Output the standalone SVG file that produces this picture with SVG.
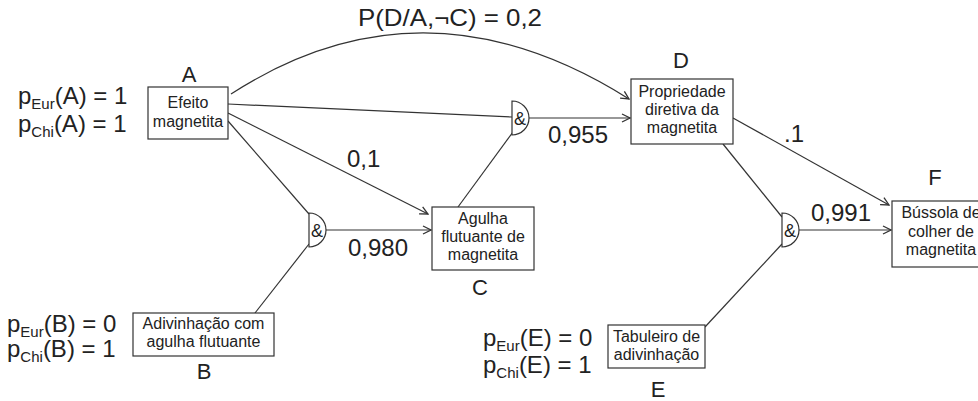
<svg xmlns="http://www.w3.org/2000/svg" width="978" height="401" viewBox="0 0 978 401">
<style>
.box{fill:#fff;stroke:#333;stroke-width:1.2}
.gate{fill:#fff;stroke:#333;stroke-width:1.2}
.t{font-family:"Liberation Sans",Arial,sans-serif;font-size:16px;fill:#222;text-anchor:middle}
.g{font-family:"Liberation Sans",Arial,sans-serif;font-size:18px;fill:#222;text-anchor:middle}
.L{font-family:"Liberation Sans",Arial,sans-serif;font-size:22px;fill:#222;text-anchor:middle}
.n{font-family:"Liberation Sans",Arial,sans-serif;font-size:24px;fill:#222}
.e{fill:none;stroke:#333;stroke-width:1.2}
</style>
<defs>
<marker id="arr" markerUnits="userSpaceOnUse" viewBox="0 0 10 10" refX="9" refY="5" markerWidth="10" markerHeight="10" orient="auto">
<path d="M1,1 L9,5 L1,9" fill="none" stroke="#333" stroke-width="1.3"/>
</marker>
</defs>
<rect width="978" height="401" fill="#fff"/>
<g id="connectors">
<path class="e" d="M231,94 Q424,-30.5 629,99" marker-end="url(#arr)"/>
<line class="e" x1="228" y1="104" x2="512" y2="117"/>
<line class="e" x1="529" y1="118" x2="630" y2="118" marker-end="url(#arr)"/>
<line class="e" x1="228" y1="113" x2="428" y2="214" marker-end="url(#arr)"/>
<line class="e" x1="228" y1="121" x2="309" y2="214"/>
<line class="e" x1="255" y1="313" x2="309" y2="244"/>
<line class="e" x1="326" y1="230" x2="431" y2="230" marker-end="url(#arr)"/>
<line class="e" x1="458" y1="207" x2="513" y2="132"/>
<line class="e" x1="733" y1="118" x2="889" y2="205" marker-end="url(#arr)"/>
<line class="e" x1="723" y1="144" x2="782" y2="217"/>
<line class="e" x1="705" y1="327" x2="782" y2="244"/>
<line class="e" x1="799" y1="230" x2="891" y2="230" marker-end="url(#arr)"/>
</g>
<g id="gateD"><path class="gate" d="M512,101 A17,17 0 0 1 512,135 Z"/><text class="g" x="520" y="124.5">&amp;</text></g>
<g id="gateC"><path class="gate" d="M309,213 A17,17 0 0 1 309,247 Z"/><text class="g" x="317" y="236.5">&amp;</text></g>
<g id="gateF"><path class="gate" d="M782,213 A17,17 0 0 1 782,247 Z"/><text class="g" x="790" y="236.5">&amp;</text></g>
<g id="nodeA">
<rect class="box" x="148" y="87" width="80" height="52"/>
<text class="t" x="188" y="108">Efeito</text>
<text class="t" x="188" y="127">magnetita</text>
<text class="L" x="189" y="82">A</text>
</g>
<g id="nodeB">
<rect class="box" x="133" y="313" width="141" height="43"/>
<text class="t" x="203.5" y="329">Adivinhação com</text>
<text class="t" x="203.5" y="347">agulha flutuante</text>
<text class="L" x="204" y="379">B</text>
</g>
<g id="nodeC">
<rect class="box" x="432" y="207" width="102" height="63"/>
<text class="t" x="483" y="224">Agulha</text>
<text class="t" x="483" y="242">flutuante de</text>
<text class="t" x="483" y="260">magnetita</text>
<text class="L" x="480" y="295">C</text>
</g>
<g id="nodeD">
<rect class="box" x="631" y="79" width="102" height="65"/>
<text class="t" x="682" y="97">Propriedade</text>
<text class="t" x="682" y="115">diretiva da</text>
<text class="t" x="682" y="133">magnetita</text>
<text class="L" x="681" y="68">D</text>
</g>
<g id="nodeE">
<rect class="box" x="608" y="325" width="97" height="43"/>
<text class="t" x="656.5" y="342">Tabuleiro de</text>
<text class="t" x="656.5" y="360">adivinhação</text>
<text class="L" x="658" y="397">E</text>
</g>
<g id="nodeF">
<rect class="box" x="892" y="201" width="102" height="66"/>
<text class="t" x="941" y="218">Bússola de</text>
<text class="t" x="941" y="237">colher de</text>
<text class="t" x="941" y="255">magnetita</text>
<text class="L" x="935" y="185">F</text>
</g>
<g id="labels">
<text class="n" x="358" y="26" textLength="184" lengthAdjust="spacingAndGlyphs">P(D/A,¬C) = 0,2</text>
<text class="n" x="548" y="143">0,955</text>
<text class="n" x="347" y="167">0,1</text>
<text class="n" x="348" y="256">0,980</text>
<text class="n" x="784" y="142">.1</text>
<text class="n" x="811" y="221">0,991</text>
<text class="n" x="18" y="104">p<tspan font-size="15" dy="5">Eur</tspan><tspan dy="-5">(A) = 1</tspan></text>
<text class="n" x="18" y="132">p<tspan font-size="15" dy="5">Chi</tspan><tspan dy="-5">(A) = 1</tspan></text>
<text class="n" x="7" y="332">p<tspan font-size="15" dy="5">Eur</tspan><tspan dy="-5">(B) = 0</tspan></text>
<text class="n" x="7" y="357">p<tspan font-size="15" dy="5">Chi</tspan><tspan dy="-5">(B) = 1</tspan></text>
<text class="n" x="483" y="346">p<tspan font-size="15" dy="5">Eur</tspan><tspan dy="-5">(E) = 0</tspan></text>
<text class="n" x="483" y="373">p<tspan font-size="15" dy="5">Chi</tspan><tspan dy="-5">(E) = 1</tspan></text>
</g>
</svg>
